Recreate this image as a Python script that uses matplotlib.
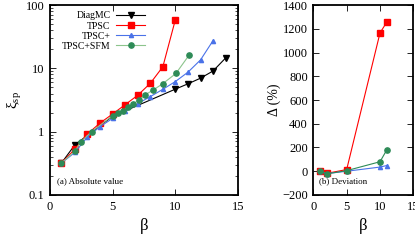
import matplotlib
matplotlib.use("Agg")
import matplotlib.pyplot as plt

# (a) absolute value of xi_sp
beta_diag = [0.93, 2, 5, 10, 11, 12, 13, 14]
xi_diag = [0.32, 0.62, 1.75, 4.7, 5.7, 7.0, 9.1, 14.6]

beta_tpsc = [0.93, 2, 3, 4, 5, 6, 7, 8, 9, 10]
xi_tpsc = [0.32, 0.53, 0.92, 1.37, 1.9, 2.67, 3.76, 5.8, 10.6, 59]

beta_tpscp = [0.93, 2, 3, 4, 5, 6, 7, 8, 9, 10, 11, 12, 13]
xi_tpscp = [0.32, 0.47, 0.83, 1.2, 1.62, 2.15, 2.77, 3.58, 4.67, 6.2, 8.7, 13.6, 27.5]

beta_sfm = [0.93, 2, 2.47, 3.32, 5.0, 5.44, 5.79, 6.24, 6.64, 7.1, 7.57, 8.23, 8.98, 10.04, 11.1]
xi_sfm = [0.32, 0.49, 0.69, 1.0, 1.79, 1.95, 2.15, 2.42, 2.74, 3.17, 3.8, 4.55, 5.7, 8.3, 16.3]

# (b) deviation from DiagMC in %
beta_dev = [1, 2, 5, 10, 11]
dev_tpsc = [0, -18, 14, 1165, 1255]
dev_tpscp = [0, -20, 0, 35, 48]
dev_sfm = [0, -22, 5, 80, 178]

RED = "#ff0000"
BLUE = "#4a72e8"
GREEN = "#2e8b57"
GREEN_LINE = "#8cc48c"

plt.rcParams["font.family"] = ["Liberation Serif", "DejaVu Serif"]
plt.rcParams["mathtext.fontset"] = "custom"
plt.rcParams["mathtext.rm"] = "Liberation Serif"

fig = plt.figure(figsize=(4.15, 2.41), dpi=100)
ax1 = fig.add_axes([0.120, 0.191, 0.454, 0.788])
ax2 = fig.add_axes([0.755, 0.191, 0.241, 0.788])

kw = dict(lw=0.8, markersize=3.8)
ax1.plot(beta_diag, xi_diag, color="black", marker="v", label="DiagMC", **kw)
ax1.plot(beta_tpsc, xi_tpsc, color=RED, marker="s", label="TPSC", **kw)
ax1.plot(beta_tpscp, xi_tpscp, color=BLUE, marker="^", label="TPSC+",
         lw=0.8, markersize=3.0)
ax1.plot(beta_sfm, xi_sfm, color=GREEN_LINE, marker="o", mfc=GREEN, mec=GREEN,
         label="TPSC+SFM", **kw)

ax1.set_yscale("log")
ax1.set_xlim(0, 15)
ax1.set_ylim(0.1, 100)
ax1.set_xticks([0, 5, 10, 15])
ax1.set_yticks([0.1, 1, 10, 100])
ax1.set_yticklabels(["0.1", "1", "10", "100"])
ax1.set_xlabel("β", fontsize=12, labelpad=4)
ax1.set_ylabel(r"ξ$_{\rm sp}$", fontsize=11, labelpad=1)
ax1.text(0.04, 0.06, "(a) Absolute value", transform=ax1.transAxes, fontsize=6.5)

leg = ax1.legend(loc="upper left", bbox_to_anchor=(0.03, 1.0), frameon=False,
                 markerfirst=False, fontsize=7, handlelength=3.0,
                 labelspacing=0.12, handletextpad=0.6, borderaxespad=0.25)

ax2.plot(beta_dev, dev_tpsc, color=RED, marker="s", **kw)
ax2.plot(beta_dev, dev_tpscp, color=BLUE, marker="^", lw=0.8, markersize=3.0)
ax2.plot(beta_dev, dev_sfm, color=GREEN, marker="o", **kw)
ax2.set_xlim(0, 15)
ax2.set_ylim(-200, 1400)
ax2.set_xticks([0, 5, 10, 15])
ax2.set_yticks(range(-200, 1401, 200))
ax2.set_yticklabels(["\u2212200"] + [str(v) for v in range(0, 1401, 200)])
ax2.set_xlabel("β", fontsize=12, labelpad=4)
ax2.set_ylabel("Δ (%)", fontsize=10, labelpad=1)
ax2.text(0.06, 0.06, "(b) Deviation", transform=ax2.transAxes, fontsize=6.5)

for ax in (ax1, ax2):
    for s in ax.spines.values():
        s.set_linewidth(1.3)
    ax.tick_params(which="both", direction="in", top=True, right=True,
                   labelsize=9, pad=4)
    ax.tick_params(which="major", length=4, width=0.6)
    ax.tick_params(which="minor", length=2, width=0.5)

fig.savefig("out.png", dpi=100)
